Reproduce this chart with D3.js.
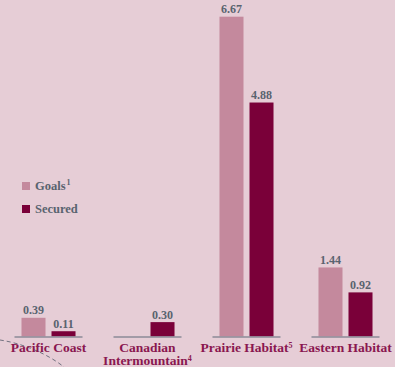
<!DOCTYPE html>
<html>
<head>
<meta charset="utf-8">
<script src="https://cdn.jsdelivr.net/npm/d3@7"></script>
<style>
  html, body { margin: 0; padding: 0; background: #e6cdd6; }
  svg { display: block; }
  .val { font-family: "Liberation Serif", serif; font-weight: bold; font-size: 12px; fill: #59636f; }
  .cat { font-family: "Liberation Serif", serif; font-weight: bold; font-size: 13.5px; fill: #8a1750; }
  .leg { font-family: "Liberation Serif", serif; font-weight: bold; font-size: 12.5px; fill: #59636f; }
</style>
</head>
<body>
<div id="chart"></div>
<script>
var categories = ["Pacific Coast", "Canadian Intermountain", "Prairie Habitat", "Eastern Habitat"];
var catLines = [["Pacific Coast"], ["Canadian", "Intermountain"], ["Prairie Habitat"], ["Eastern Habitat"]];
var catNotes = ["", "4", "5", ""];
var goals = [0.39, null, 6.67, 1.44];
var secured = [0.11, 0.30, 4.88, 0.92];
var seriesNames = ["Goals", "Secured"];
var seriesNotes = ["1", ""];
var colors = ["#c4899d", "#7a0039"];

var width = 395, height = 367;
var base = 336.5;

var svg = d3.select("#chart").append("svg")
  .attr("width", width)
  .attr("height", height);

svg.append("rect").attr("width", width).attr("height", height).attr("fill", "#e6cdd6");

// decorative dashed map line in the corner
svg.append("path")
  .attr("d", "M0,340 C20,343 45,352 64,367")
  .attr("fill", "none")
  .attr("stroke", "#6f6f7e")
  .attr("stroke-width", 1)
  .attr("stroke-dasharray", "4,3");

var x = d3.scaleBand().domain(categories).range([14.5, 379.5]).paddingInner(0.313).paddingOuter(0);
var xs = d3.scaleBand().domain(seriesNames).range([0, x.bandwidth()]).paddingInner(0.2).paddingOuter(0.233);
var y = d3.scaleLinear().domain([0, 6.67]).range([base, 16.7]);

var rows = categories.map(function(c, i) {
  return { cat: c, values: [goals[i], secured[i]] };
});

var groups = svg.selectAll("g.grp")
  .data(rows)
  .enter().append("g")
  .attr("class", "grp")
  .attr("transform", function(d) { return "translate(" + x(d.cat) + ",0)"; });

groups.selectAll("rect")
  .data(function(d) {
    return d.values.map(function(v, j) { return { s: seriesNames[j], v: v, j: j }; })
      .filter(function(e) { return e.v != null; });
  })
  .enter().append("rect")
  .attr("x", function(e) { return xs(e.s); })
  .attr("width", xs.bandwidth())
  .attr("y", function(e) { return y(e.v); })
  .attr("height", function(e) { return base - y(e.v); })
  .attr("fill", function(e) { return colors[e.j]; });

groups.selectAll("text.val")
  .data(function(d) {
    return d.values.map(function(v, j) { return { s: seriesNames[j], v: v }; })
      .filter(function(e) { return e.v != null; });
  })
  .enter().append("text")
  .attr("class", "val")
  .attr("text-anchor", "middle")
  .attr("x", function(e) { return xs(e.s) + xs.bandwidth() / 2; })
  .attr("y", function(e) { return y(e.v) - 3.5; })
  .text(function(e) { return d3.format(".2f")(e.v); });

// baselines
groups.append("line")
  .attr("x1", 0)
  .attr("x2", x.bandwidth())
  .attr("y1", base + 0.5)
  .attr("y2", base + 0.5)
  .attr("stroke", "#8b8a97")
  .attr("stroke-width", 1.6);

// category labels
groups.each(function(d, i) {
  var g = d3.select(this);
  var lines = catLines[i];
  lines.forEach(function(l, k) {
    var t = g.append("text")
      .attr("class", "cat")
      .attr("text-anchor", "middle")
      .attr("x", x.bandwidth() / 2)
      .attr("y", 352 + k * 12.5);
    t.append("tspan").text(l);
    if (k === lines.length - 1 && catNotes[i]) {
      t.append("tspan").attr("font-size", "8px").attr("dy", "-4").text(catNotes[i]);
    }
  });
});

// legend
var legend = svg.selectAll("g.leg")
  .data(seriesNames)
  .enter().append("g")
  .attr("transform", function(d, i) { return "translate(22," + (182 + i * 23) + ")"; });

legend.append("rect")
  .attr("width", 8).attr("height", 8)
  .attr("fill", function(d, i) { return colors[i]; });

legend.append("text")
  .attr("class", "leg")
  .attr("x", 13)
  .attr("y", 8)
  .each(function(d, i) {
    var t = d3.select(this);
    t.append("tspan").text(d);
    if (seriesNotes[i]) {
      t.append("tspan").attr("font-size", "8px").attr("dy", "-5").attr("dx", "1").text(seriesNotes[i]);
    }
  });
</script>
</body>
</html>
